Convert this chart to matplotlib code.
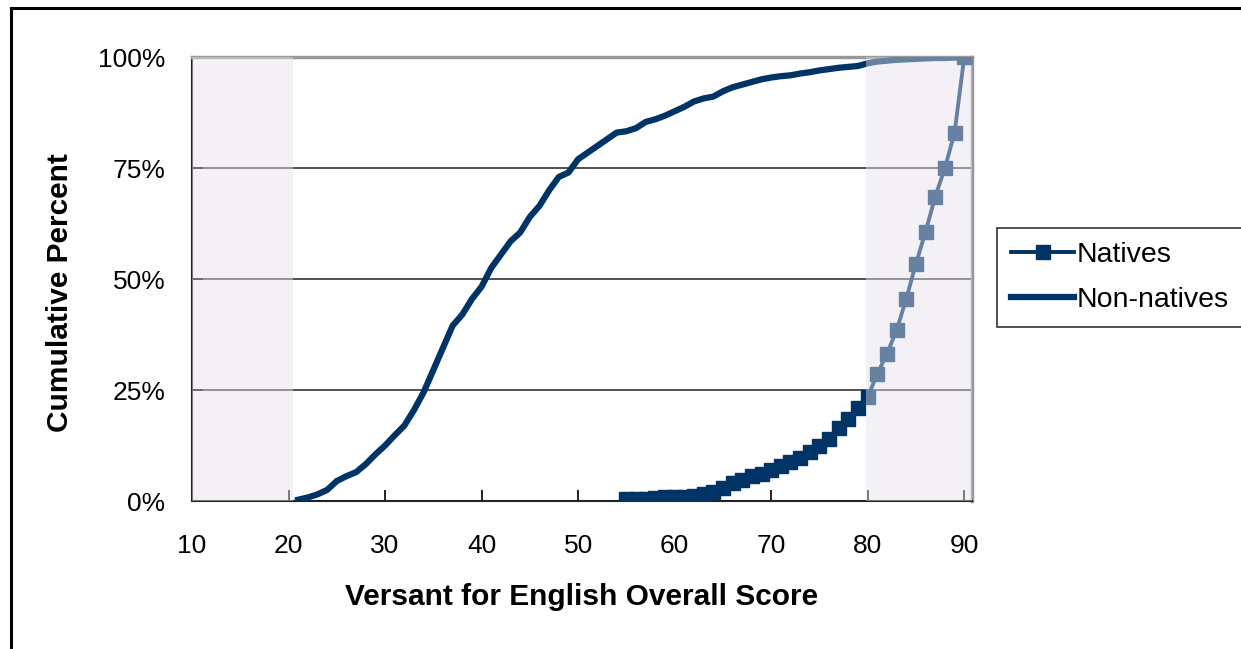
import matplotlib.pyplot as plt
from matplotlib.lines import Line2D
from matplotlib.ticker import FuncFormatter

plt.rcParams['font.family'] = ['Liberation Sans', 'DejaVu Sans']

# cumulative percent by score
native_scores = list(range(55, 91))
native_pct = [0.5, 0.5, 0.5, 0.6, 0.8, 1.0, 1.0, 1.1, 1.5, 2.0,
              3.0, 4.0, 4.8, 5.6, 6.2, 7.0, 7.8, 8.7, 9.8, 11.0,
              12.3, 14.0, 16.5, 18.5, 21.0, 23.4, 28.7, 33.2, 38.5, 45.6,
              53.5, 60.7, 68.6, 75.0, 83.0, 100.0]

nonnative_scores = list(range(21, 91))
nonnative_pct = [0.3, 0.8, 1.5, 2.5, 4.5, 5.6, 6.5, 8.3, 10.5, 12.5,
                 14.8, 17.0, 20.5, 24.5, 29.5, 34.5, 39.5, 42.0, 45.5, 48.3,
                 52.5, 55.5, 58.5, 60.5, 64.0, 66.5, 70.0, 73.0, 74.0, 77.0,
                 78.5, 80.0, 81.5, 83.0, 83.3, 84.0, 85.4, 86.0, 86.8, 87.8,
                 88.8, 90.0, 90.7, 91.1, 92.3, 93.2, 93.8, 94.4, 95.0, 95.4,
                 95.7, 95.9, 96.3, 96.6, 97.0, 97.3, 97.6, 97.8, 98.0, 98.6,
                 99.0, 99.2, 99.4, 99.5, 99.6, 99.7, 99.8, 99.8, 99.9, 100.0]

x_ticks = [10, 20, 30, 40, 50, 60, 70, 80, 90]
y_ticks = [0, 25, 50, 75, 100]
navy = '#003366'

fig = plt.figure(figsize=(12.41, 6.49), dpi=100)
ax = fig.add_axes([0.1547, 0.228, 0.6285, 0.684])

# grid lines
for yv in y_ticks[1:-1]:
    ax.axhline(yv, color='#333333', lw=1.2, zorder=1)

ax.plot(native_scores, native_pct, color=navy, lw=2.8, marker='s', ms=9.5,
        label='Natives', zorder=3)
ax.plot(nonnative_scores, nonnative_pct, color=navy, lw=4.5,
        label='Non-natives', zorder=3)

# shaded bands drawn over the lines (they wash the lines out)
ax.axvspan(10, 20.5, color='#e6e2ec', alpha=0.45, lw=0, zorder=4)
ax.axvspan(79.8, 91, color='#e6e2ec', alpha=0.45, lw=0, zorder=4)

ax.set_xlim(10, 90.8)
ax.set_ylim(0, 100)
ax.set_xticks(x_ticks)
ax.set_yticks(y_ticks)
ax.yaxis.set_major_formatter(FuncFormatter(lambda v, p: '%d%%' % v))
ax.tick_params(axis='both', direction='in', length=8, width=1.2, labelsize=19)
ax.tick_params(axis='x', pad=24)
ax.tick_params(axis='y', pad=19)

for s in ['left', 'bottom']:
    ax.spines[s].set_color('#222222')
    ax.spines[s].set_linewidth(1.5)
for s in ['top', 'right']:
    ax.spines[s].set_color('#999999')
    ax.spines[s].set_linewidth(2.5)

ax.set_xlabel('Versant for English Overall Score', fontsize=21.5, fontweight='bold', labelpad=18)
ax.set_ylabel('Cumulative Percent', fontsize=21.5, fontweight='bold')
ax.yaxis.set_label_coords(-0.151, 0.47)

leg = ax.legend(loc='upper left', bbox_to_anchor=(997 / 1241, 1 - 228 / 649),
                bbox_transform=fig.transFigure, fontsize=20.5, frameon=True,
                fancybox=False, edgecolor='black', handlelength=2.2,
                handletextpad=0.1, borderpad=0.5, labelspacing=0.65,
                borderaxespad=0)
leg.get_frame().set_linewidth(1.2)

# outer border of the figure (left and top edges show)
fig.add_artist(Line2D([11 / 1241, 11 / 1241], [0, 1 - 8 / 649], color='black', lw=2.2))
fig.add_artist(Line2D([11 / 1241, 1], [1 - 8 / 649, 1 - 8 / 649], color='black', lw=2.2))

fig.savefig('out.png', dpi=100)
